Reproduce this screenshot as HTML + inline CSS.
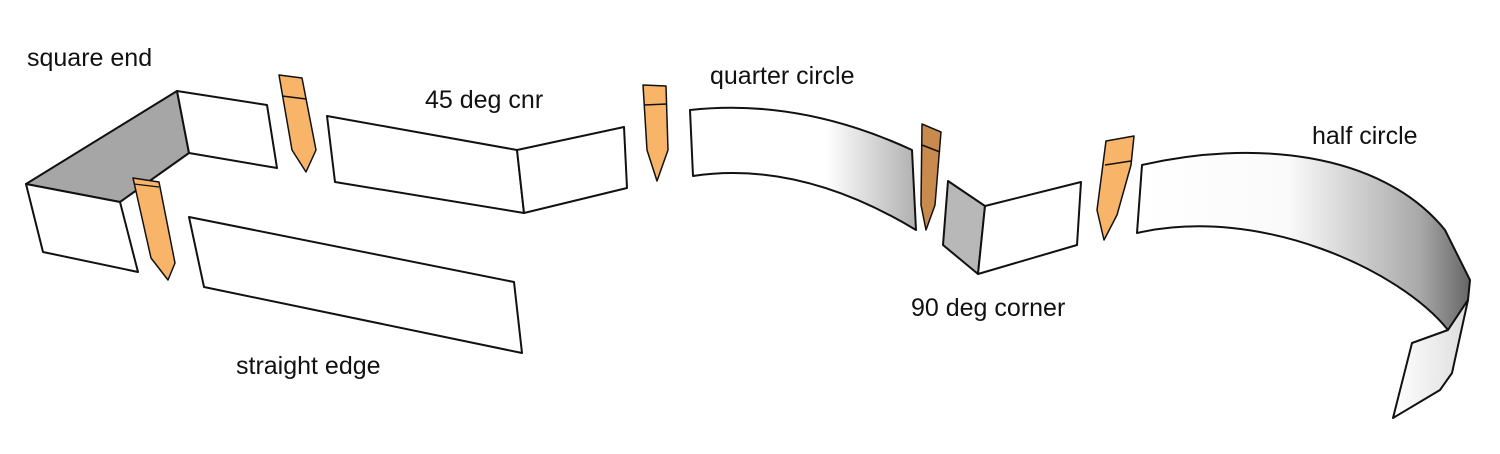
<!DOCTYPE html>
<html><head><style>
html,body{margin:0;padding:0;background:#fff}
svg{display:block}
text{font-family:"Liberation Sans",sans-serif;font-size:25px;fill:#111}
</style></head><body>
<svg width="1500" height="454" viewBox="0 0 1500 454" xmlns="http://www.w3.org/2000/svg">
<defs>
<linearGradient id="qc" x1="0" x2="1" y1="0" y2="0">
<stop offset="0" stop-color="#fff"/><stop offset="0.6" stop-color="#fff"/><stop offset="1" stop-color="#b0b0b0"/>
</linearGradient>
<linearGradient id="hc" x1="1140" x2="1470" y1="0" y2="0" gradientUnits="userSpaceOnUse">
<stop offset="0" stop-color="#fff"/><stop offset="0.45" stop-color="#fafafa"/><stop offset="0.85" stop-color="#a8a8a8"/><stop offset="1" stop-color="#666"/>
</linearGradient>
<linearGradient id="he" x1="0" x2="1" y1="0" y2="0">
<stop offset="0" stop-color="#fff"/><stop offset="1" stop-color="#ddd"/>
</linearGradient>
</defs>
<g stroke="#111" stroke-width="2" stroke-linejoin="round">
<polygon points="26,184 177,91 189,153 120,202" fill="#a6a6a6"/>
<polygon points="177,91 267,105 277,168 189,153" fill="#fff"/>
<polygon points="26,184 120,202 138,272 43,252" fill="#fff"/>
<polygon points="133,178 159,182 175,263 168,280 151,258" fill="#f8b56a" stroke-width="1.5"/>
<line x1="134" y1="184" x2="159" y2="187" stroke-width="1.2"/>
<polygon points="279,75 302,78 316,150 306,172 292,150" fill="#f8b56a" stroke-width="1.5"/>
<line x1="282" y1="96" x2="306" y2="99" stroke-width="1.5"/>
<polygon points="189,217 514,282 522,353 204,287" fill="#fff"/>
<polygon points="327,116 517,150 524,213 335,182" fill="#fff"/>
<polygon points="517,150 624,127 627,188 524,213" fill="#fff"/>
<polygon points="643,85 666,86 668,150 657,181 647,150" fill="#f8b56a" stroke-width="1.5"/>
<line x1="644" y1="105" x2="667" y2="104" stroke-width="1.5"/>
<path d="M690,110 Q800,98 912,150 L916,230 Q800,160 693,176 Z" fill="url(#qc)"/>
<polygon points="922,124 941,132 935,205 926,230 921,205" fill="#c98a4e" stroke-width="1.5"/>
<line x1="922" y1="145" x2="940" y2="152" stroke-width="1.5"/>
<polygon points="948,181 985,206 978,274 943,245" fill="#b8b8b8"/>
<polygon points="985,206 1081,182 1077,245 978,274" fill="#fff"/>
<polygon points="1106,141 1134,136 1131,165 1117,215 1104,240 1097,210" fill="#f8b56a" stroke-width="1.5"/>
<line x1="1105" y1="165" x2="1131" y2="161" stroke-width="1.5"/>
<path d="M1142,165 C1250,140 1380,150 1445,230 L1470,280 L1468,300 L1448,330 C1400,270 1260,205 1137,233 Z" fill="url(#hc)"/>
<polygon points="1468,300 1452,373 1440,390 1393,418 1412,343 1448,330" fill="url(#he)"/>
</g>
<text x="27" y="66">square end</text>
<text x="425" y="108">45 deg cnr</text>
<text x="710" y="84">quarter circle</text>
<text x="911" y="316">90 deg corner</text>
<text x="236" y="374">straight edge</text>
<text x="1312" y="144">half circle</text>
</svg>
</body></html>
